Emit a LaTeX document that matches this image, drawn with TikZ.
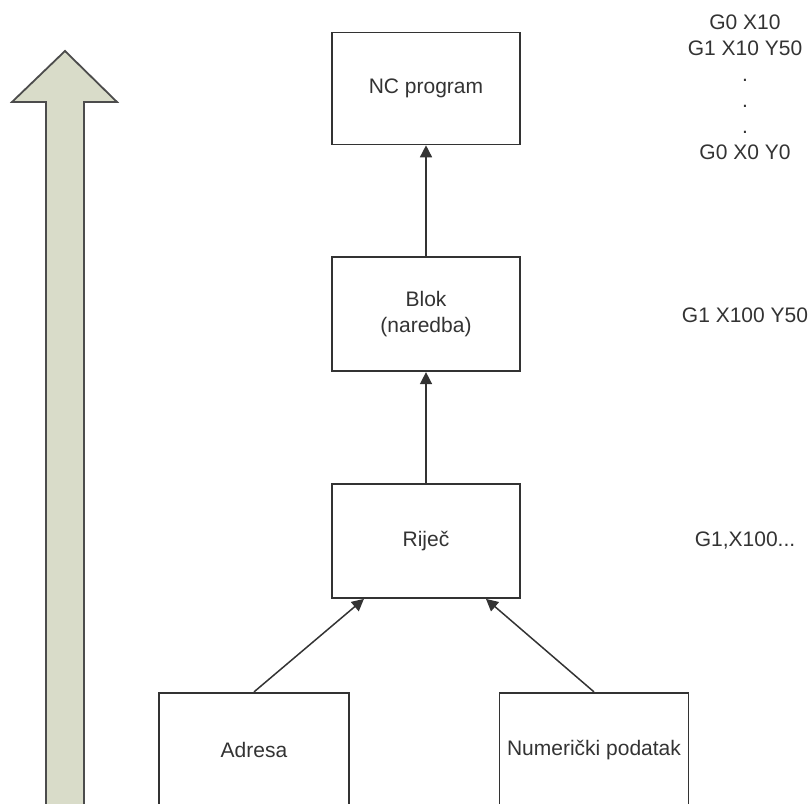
\documentclass[tikz,border=0pt]{standalone}
\usepackage{fontspec}
\setmainfont{Liberation Sans}
\usetikzlibrary{positioning, arrows.meta}
\definecolor{arrowfill}{RGB}{217,220,201}
\definecolor{linegray}{RGB}{51,51,51}
\tikzset{
	levelbox/.style={rectangle, draw=linegray, line width=1.8pt, fill=white,
		minimum width=188pt, minimum height=114pt, inner sep=2pt,
		align=center, text=linegray, font=\fontsize{21}{26}\selectfont},
	levelarr/.style={-{Triangle[length=12pt, width=12pt]}, line width=1.5pt, draw=linegray},
	codetext/.style={align=center, text=linegray, font=\fontsize{21}{26}\selectfont}
}

\begin{document}
\begin{tikzpicture}[x=1pt, y=-1pt, node distance=111pt]
	\useasboundingbox (0,0) rectangle (810,803);
	\clip (0,0) rectangle (810,803);
	% big arrow on the left
	\draw[draw=gray!60!black, line width=1.8pt, fill=arrowfill]
		(65,51) -- (117,102) -- (84,102) -- (84,820) -- (46,820) -- (46,102) -- (12,102) -- cycle;
	% levels
	\node[levelbox] (rijec) at (426,541) {Riječ};
	\node[levelbox, above=of rijec] (blok) {Blok\\(naredba)};
	\node[levelbox, minimum height=112pt, above=of blok] (ncprog) {NC program};
	\node[levelbox, minimum width=190pt, below=93pt of rijec, xshift=-172pt] (adresa) {Adresa};
	\node[levelbox, minimum width=189pt, below=93pt of rijec, xshift=168pt] (numpod) {Numerički podatak};
	\draw[levelarr] (blok) -- (ncprog);
	\draw[levelarr] (rijec) -- (blok);
	\draw[levelarr] (adresa.north) -- (rijec.223);
	\draw[levelarr] (numpod.north) -- (rijec.316);
	% examples
	\node[codetext] (progcode) at (745,87) {G0 X10\\G1 X10 Y50\\.\\.\\.\\G0 X0 Y0};
	\node[codetext] (blokcode) at (745,315) {G1 X100 Y50};
	\node[codetext] (rijeccode) at (745,541) {G1,X100...};
\end{tikzpicture}
\end{document}
